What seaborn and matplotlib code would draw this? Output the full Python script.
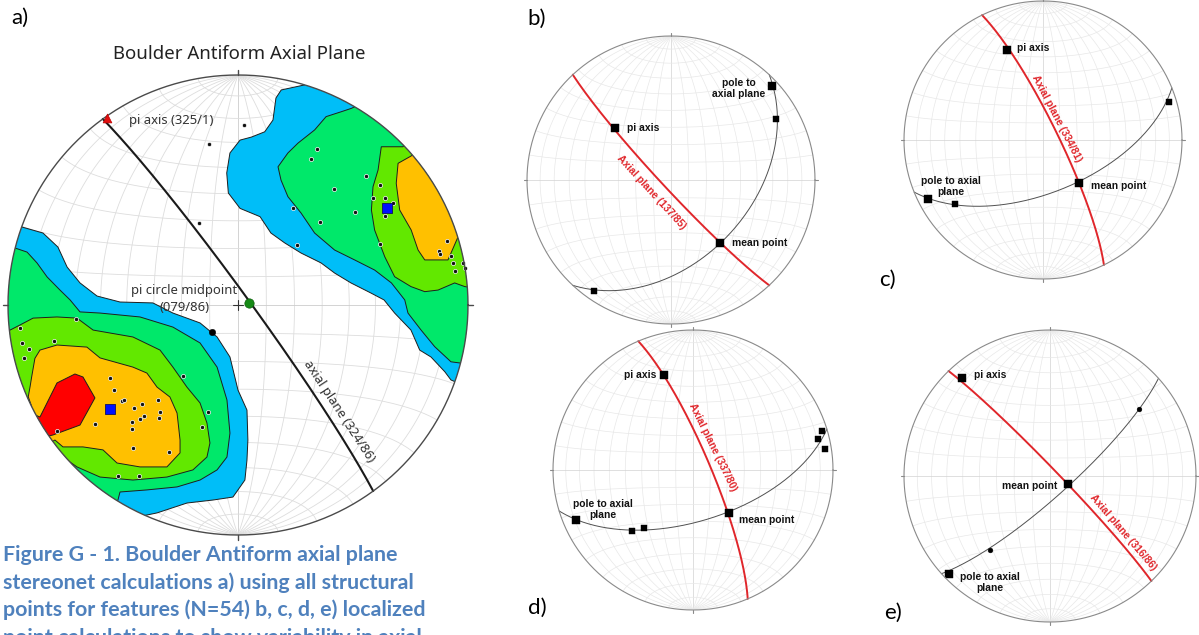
import numpy as np
import matplotlib
matplotlib.use("Agg")
import matplotlib.pyplot as plt
from matplotlib.patches import Circle
import seaborn as sns

sns.set_theme(style="white")
plt.rcParams["font.family"] = ["Noto Sans", "DejaVu Sans"]

W, H = 1199, 635

# ---------------------------------------------------------------------------
# a) all structural points: poles in projected net coordinates (east, north),
#    equal-area lower hemisphere, unit primitive circle
a_east = [0.342, 0.316, 0.558, 0.419, 0.619, 0.587, 0.638, 0.675, 0.639, 0.239,
          0.507, 0.355, 0.257, 0.617, 0.910, 0.875, 0.877, 0.925, 0.935, 0.942,
          0.978, 0.986, 0.027, -0.126, -0.168,
          -0.704, -0.948, -0.940, -0.907, -0.929, -0.799, -0.557, -0.538, -0.506,
          -0.494, -0.416, -0.349, -0.451, -0.339, -0.409, -0.345, -0.425, -0.460,
          -0.460, -0.622, -0.240, -0.129, -0.157, -0.455, -0.300, -0.523, -0.432,
          -0.788]
a_north = [0.678, 0.633, 0.561, 0.503, 0.522, 0.464, 0.467, 0.445, 0.388, 0.420,
           0.404, 0.361, 0.262, 0.265, 0.280, 0.235, 0.220, 0.214, 0.184, 0.149,
           0.181, 0.160, 0.781, 0.699, 0.358,
           -0.061, -0.099, -0.164, -0.193, -0.232, -0.155, -0.319, -0.371, -0.419,
           -0.412, -0.429, -0.413, -0.448, -0.464, -0.483, -0.490, -0.497, -0.509,
           -0.540, -0.519, -0.307, -0.467, -0.529, -0.622, -0.640, -0.742, -0.745,
           -0.548]
a_mean_east = [0.649, -0.557]
a_mean_north = [0.420, -0.451]
a_bulk_east = [-0.112]
a_bulk_north = [-0.116]
a_pi_axis = (325, 1)       # trend / plunge
a_pi_mid = (79, 86)        # trend / plunge
a_axial = (324, 86)        # strike / dip

# density contour outlines (projected coordinates), lowest level first
sw_c1 = [(-1.2, 0.45), (-1.035, 0.37), (-0.939, 0.339), (-0.848, 0.313), (-0.783, 0.252),
         (-0.743, 0.165), (-0.687, 0.096), (-0.613, 0.039), (-0.513, 0.013), (-0.370, 0.009),
         (-0.283, -0.035), (-0.165, -0.078), (-0.091, -0.139), (-0.035, -0.226), (0.0, -0.370),
         (0.039, -0.457), (0.043, -0.587), (0.039, -0.674), (0.030, -0.761), (0.009, -0.791),
         (-0.022, -0.835), (-0.109, -0.848), (-0.222, -0.861), (-0.352, -0.904), (-0.439, -0.922),
         (-0.5, -1.1), (-1.2, -1.2)]
sw_c2 = [(-1.2, 0.3), (-1.0, 0.248), (-0.970, 0.248), (-0.917, 0.230), (-0.874, 0.183),
         (-0.830, 0.122), (-0.774, 0.065), (-0.730, 0.022), (-0.687, -0.030), (-0.600, -0.035),
         (-0.426, -0.052), (-0.283, -0.096), (-0.165, -0.165), (-0.091, -0.270), (-0.048, -0.413),
         (-0.035, -0.557), (-0.048, -0.661), (-0.091, -0.717), (-0.165, -0.761), (-0.265, -0.791),
         (-0.396, -0.804), (-0.513, -0.813), (-0.522, -0.848), (-0.6, -1.0), (-1.2, -1.0)]
sw_c3 = [(-1.2, -0.1), (-0.991, -0.109), (-0.948, -0.087), (-0.891, -0.057), (-0.787, -0.052),
         (-0.700, -0.057), (-0.630, -0.109), (-0.457, -0.139), (-0.339, -0.196), (-0.283, -0.270),
         (-0.222, -0.357), (-0.165, -0.426), (-0.135, -0.513), (-0.122, -0.600), (-0.135, -0.661),
         (-0.196, -0.717), (-0.309, -0.748), (-0.457, -0.761), (-0.600, -0.748), (-0.700, -0.704),
         (-0.743, -0.674), (-0.85, -0.75), (-1.2, -0.7)]
sw_c4 = [(-1.1, -0.45), (-0.897, -0.442), (-0.912, -0.399), (-0.904, -0.355), (-0.897, -0.312),
         (-0.883, -0.232), (-0.861, -0.196), (-0.787, -0.174), (-0.657, -0.183), (-0.600, -0.230),
         (-0.457, -0.270), (-0.396, -0.296), (-0.352, -0.357), (-0.296, -0.400), (-0.265, -0.470),
         (-0.252, -0.587), (-0.252, -0.643), (-0.309, -0.704), (-0.426, -0.704), (-0.526, -0.687),
         (-0.587, -0.630), (-0.674, -0.617), (-0.761, -0.617), (-0.796, -0.587), (-0.9, -0.65),
         (-1.1, -0.6)]
sw_c5 = [(-0.861, -0.487), (-0.787, -0.339), (-0.709, -0.300), (-0.674, -0.313), (-0.622, -0.404),
         (-0.687, -0.522), (-0.804, -0.565), (-0.95, -0.6), (-0.95, -0.45)]
ne_c1 = [(0.25, 1.2), (0.290, 0.957), (0.188, 0.935), (0.165, 0.900), (0.152, 0.804),
         (0.116, 0.753), (0.058, 0.730), (0.009, 0.717), (-0.035, 0.661), (-0.049, 0.574),
         (-0.042, 0.487), (0.009, 0.420), (0.096, 0.384), (0.143, 0.313), (0.203, 0.270),
         (0.274, 0.226), (0.361, 0.183), (0.420, 0.139), (0.491, 0.096), (0.578, 0.052),
         (0.635, 0.022), (0.681, -0.035), (0.752, -0.109), (0.790, -0.196), (0.839, -0.226),
         (0.899, -0.290), (0.926, -0.326), (1.1, -0.4), (1.2, 1.2)]
ne_c2 = [(0.8, 1.0), (0.493, 0.855), (0.448, 0.840), (0.383, 0.819), (0.333, 0.761),
         (0.261, 0.704), (0.217, 0.661), (0.174, 0.601), (0.187, 0.543), (0.217, 0.471),
         (0.274, 0.400), (0.333, 0.313), (0.420, 0.239), (0.507, 0.196), (0.594, 0.152),
         (0.667, 0.096), (0.725, 0.022), (0.739, -0.035), (0.796, -0.109), (0.855, -0.181),
         (0.926, -0.247), (0.964, -0.252), (1.2, -0.3), (1.2, 1.0)]
ne_c3 = [(0.9, 0.9), (0.717, 0.688), (0.623, 0.688), (0.609, 0.587), (0.587, 0.514),
         (0.580, 0.413), (0.594, 0.326), (0.638, 0.210), (0.681, 0.123), (0.752, 0.080),
         (0.812, 0.058), (0.870, 0.065), (0.942, 0.096), (0.986, 0.080), (1.2, 0.05), (1.2, 0.9)]
ne_c4 = [(1.0, 0.9), (0.753, 0.648), (0.696, 0.616), (0.688, 0.529), (0.703, 0.413),
         (0.753, 0.326), (0.783, 0.239), (0.812, 0.196), (0.913, 0.196), (0.957, 0.297),
         (1.2, 0.3), (1.2, 0.9)]
level_colors = ["#00BEF8", "#00E86A", "#62E800", "#FFC000", "#FF0000"]

# b) - e) localized calculations: planes as strike/dip, lines as trend/plunge
b_axial = (137, 85)
b_pi = (313, 46)
b_mean = (142, 44)
b_pole = (47, 5)
b_pts_trend = [60, 215]
b_pts_plunge = [17, 7]

c_axial = (334, 81)
c_pi = (338, 31)
c_mean = (140, 57)
c_pole = (243, 8)
c_pts_trend = [234, 73]
c_pts_plunge = [23, 6]

d_axial = (337, 80)
d_pi = (343, 30)
d_mean = (140, 57)
d_pole = (247, 10)
d_pts_trend = [225, 220, 73, 76, 81]
d_pts_plunge = [38, 45, 4, 9, 5]

e_axial = (316, 86)
e_pi = (318, 11)
e_mean = (113, 79)
e_pole = (226, 4)
e_pts_trend = [53, 219]
e_pts_plunge = [25, 35]

caption = ["Figure G - 1. Boulder Antiform axial plane",
           "stereonet calculations a) using all structural",
           "points for features (N=54) b, c, d, e) localized",
           "point calculations to show variability in axial"]


# ---------------------------------------------------------------------------
def project(e, n, d):
    k = 1.0 / np.sqrt(1.0 + np.clip(d, 0, None))
    return e * k, n * k


def line_xy(trend, plunge):
    t, p = np.radians(np.asarray(trend, float)), np.radians(np.asarray(plunge, float))
    return project(np.cos(p) * np.sin(t), np.cos(p) * np.cos(t), np.sin(p))


def plane_xy(strike, dip, n=241):
    s, d = np.radians(strike), np.radians(dip)
    th = np.linspace(0, np.pi, n)
    e = np.cos(th) * np.sin(s) + np.sin(th) * np.cos(d) * np.cos(s)
    nn = np.cos(th) * np.cos(s) - np.sin(th) * np.cos(d) * np.sin(s)
    dd = np.sin(th) * np.sin(d)
    return project(e, nn, dd)


fig = plt.figure(figsize=(W / 100, H / 100), dpi=100)


def net_axes(cx, cy, r):
    ax = fig.add_axes([(cx - r) / W, 1 - (cy + r) / H, 2 * r / W, 2 * r / H])
    ax.set_xlim(-1, 1)
    ax.set_ylim(-1, 1)
    ax.axis("off")
    return ax


def draw_net(ax, grid_color, grid_lw, axis_color, rim_color, rim_lw, tick=0.03):
    phi = np.radians(np.linspace(-90, 90, 181))
    for lam in range(-80, 90, 10):
        l = np.radians(lam)
        x, y = project(np.cos(phi) * np.sin(l), np.sin(phi), np.cos(phi) * np.cos(l))
        ax.plot(x, y, color=axis_color if lam == 0 else grid_color, lw=grid_lw, zorder=1)
    lamv = np.radians(np.linspace(-90, 90, 181))
    for ph in range(-80, 90, 10):
        p = np.radians(ph)
        x, y = project(np.cos(p) * np.sin(lamv), np.full_like(lamv, np.sin(p)),
                       np.cos(p) * np.cos(lamv))
        ax.plot(x, y, color=axis_color if ph == 0 else grid_color, lw=grid_lw, zorder=1)
    t = np.linspace(0, 2 * np.pi, 721)
    ax.plot(np.cos(t), np.sin(t), color=rim_color, lw=rim_lw, zorder=6, clip_on=False)
    for ang in (0, 90, 180, 270):
        a = np.radians(ang)
        ax.plot([np.cos(a), (1 + tick) * np.cos(a)], [np.sin(a), (1 + tick) * np.sin(a)],
                color=rim_color, lw=rim_lw, zorder=6, clip_on=False)


def great_circle(ax, strike, dip, color, lw):
    x, y = plane_xy(strike, dip)
    sns.lineplot(x=x, y=y, sort=False, estimator=None, color=color, linewidth=lw,
                 ax=ax, zorder=4, legend=False)


def squares(ax, trend, plunge, size, marker="s"):
    x, y = line_xy(trend, plunge)
    sns.scatterplot(x=np.atleast_1d(x), y=np.atleast_1d(y), marker=marker, s=size,
                    color="black", edgecolor="black", linewidth=0.3, ax=ax, zorder=5,
                    legend=False)
    return float(np.atleast_1d(x)[0]), float(np.atleast_1d(y)[0])


lab_kw = dict(textcoords="offset pixels", fontsize=7.4, fontweight="bold",
              family=["Liberation Sans", "DejaVu Sans"], color="#111111", zorder=7)

# ------------------------------- panel a -----------------------------------
axa = net_axes(238, 305, 230)
draw_net(axa, "#DDDDDD", 0.6, "#CCCCCC", "#4A4A4A", 1.0, tick=0.02)
rim_a = Circle((0, 0), 1, transform=axa.transData)

for outlines, col in zip([(sw_c1, ne_c1), (sw_c2, ne_c2), (sw_c3, ne_c3), (sw_c4, ne_c4),
                          (sw_c5,)], level_colors):
    for poly in outlines:
        xs, ys = zip(*poly)
        patch = axa.fill(xs, ys, facecolor=col, edgecolor="#1E1E1E", linewidth=0.7,
                         zorder=2)[0]
        patch.set_clip_path(rim_a)

axa.plot([-0.02, 0.02], [0, 0], color="#333333", lw=0.8, zorder=3)
axa.plot([0, 0], [-0.02, 0.02], color="#333333", lw=0.8, zorder=3)

great_circle(axa, a_axial[0], a_axial[1], "#1A1A1A", 1.5)

sns.scatterplot(x=a_east, y=a_north, s=9, color="#111111", edgecolor="white",
                linewidth=0.5, ax=axa, zorder=5, legend=False)
sns.scatterplot(x=a_bulk_east, y=a_bulk_north, s=22, color="black", edgecolor="black",
                linewidth=0.3, ax=axa, zorder=5, legend=False)
sns.scatterplot(x=a_mean_east, y=a_mean_north, marker="s", s=42, color="#0010FF",
                edgecolor="#10105A", linewidth=0.6, ax=axa, zorder=5, legend=False)

px_, py_ = line_xy(*a_pi_axis)
sns.scatterplot(x=[px_], y=[py_], marker="^", s=40, color="#E01010", edgecolor="#C00000",
                linewidth=0.5, ax=axa, zorder=6, legend=False)
mx_, my_ = line_xy(*a_pi_mid)
sns.scatterplot(x=[mx_], y=[my_], marker="o", s=45, color="#158A15", edgecolor="#0B5E0B",
                linewidth=0.5, ax=axa, zorder=6, legend=False)

a_font = dict(fontsize=9.4, color="#333333", family=["Noto Sans", "DejaVu Sans"], zorder=7)
axa.annotate(f"pi axis ({a_pi_axis[0]:03d}/{a_pi_axis[1]})", xy=(px_, py_), xytext=(22, -2),
             textcoords="offset pixels", ha="left", va="center", **a_font)
axa.annotate(f"pi circle midpoint\n({a_pi_mid[0]:03d}/{a_pi_mid[1]})", xy=(mx_, my_),
             xytext=(-65, 4), textcoords="offset pixels", ha="center", va="center",
             multialignment="center", linespacing=1.35, **a_font)
axa.text(0.442, -0.460, f"axial plane ({a_axial[0]}/{a_axial[1]})", rotation=-56.7,
         rotation_mode="anchor", ha="center", va="center", **a_font)

fig.text(238.8 / W, 1 - 54 / H, "Boulder Antiform Axial Plane", ha="center", va="center",
         fontsize=13.4, color="#222222", family=["Noto Sans", "DejaVu Sans"])


# ---------------------------- panels b - e ---------------------------------
def small_net(cx, cy, r, axial, pi, mean, pole, pts_t, pts_p, pt_marker, pt_size,
              red_xy, red_rot, offs):
    ax = net_axes(cx, cy, r)
    draw_net(ax, "#E8E8E8", 0.5, "#D2D2D2", "#8A8A8A", 0.8, tick=0.02)
    pi_strike, pi_dip = (pi[0] + 90) % 360, 90 - pi[1]
    great_circle(ax, pi_strike, pi_dip, "#505050", 0.7)
    great_circle(ax, axial[0], axial[1], "#E0262B", 1.4)
    sns.scatterplot(x=line_xy(pts_t, pts_p)[0], y=line_xy(pts_t, pts_p)[1],
                    marker=pt_marker, s=pt_size, color="black", edgecolor="black",
                    linewidth=0.3, ax=ax, zorder=5, legend=False)
    p_pi = squares(ax, *pi, 36)
    p_mean = squares(ax, *mean, 36)
    p_pole = squares(ax, *pole, 36)
    (o_pi, ha_pi), (o_mean, ha_mean), (o_pole, ha_pole) = offs
    ax.annotate("pi axis", xy=p_pi, xytext=o_pi, ha=ha_pi, va="center", **lab_kw)
    ax.annotate("mean point", xy=p_mean, xytext=o_mean, ha=ha_mean, va="center", **lab_kw)
    ax.annotate(pole_text[ax_count[0]], xy=p_pole, xytext=o_pole, ha=ha_pole, va="center",
                multialignment="center", linespacing=1.12, **lab_kw)
    ax.text(red_xy[0], red_xy[1], f"Axial plane ({axial[0]}/{axial[1]})", rotation=red_rot,
            rotation_mode="anchor", ha="center", va="center", fontsize=7.5,
            fontweight="bold", family=["Liberation Sans", "DejaVu Sans"], color="#E0262B",
            zorder=7)
    ax_count[0] += 1
    return ax


pole_text = ["pole to\naxial plane", "pole to axial\nplane", "pole to axial\nplane",
             "pole to axial\nplane"]
ax_count = [0]

small_net(671, 180, 144, b_axial, b_pi, b_mean, b_pole, b_pts_trend, b_pts_plunge, "s", 14,
          (-0.135, -0.083), -47.5,
          [((12, 0), "left"), ((12, 0), "left"), ((-33, -2), "center")])
small_net(1043, 140, 139, c_axial, c_pi, c_mean, c_pole, c_pts_trend, c_pts_plunge, "s", 14,
          (0.099, 0.156), -62.5,
          [((10, 2), "left"), ((12, -3), "left"), ((23, 12), "center")])
small_net(693, 470, 140, d_axial, d_pi, d_mean, d_pole, d_pts_trend, d_pts_plunge, "s", 14,
          (0.139, 0.161), -63.9,
          [((-8, 0), "right"), ((10, -7), "left"), ((27, 10), "center")])
small_net(1050, 476, 146, e_axial, e_pi, e_mean, e_pole, e_pts_trend, e_pts_plunge, "o", 12,
          (0.499, -0.387), -49.4,
          [((12, 3), "left"), ((-11, -2), "right"), ((41, -9), "center")])

# panel letters
for letter, (x, y) in zip(["a)", "b)", "c)", "d)", "e)"],
                          [(20, 18), (537, 19), (887, 280), (537, 608), (893, 613)]):
    fig.text(x / W, 1 - y / H, letter, ha="center", va="center", fontsize=16,
             family=["Lato", "DejaVu Sans"], color="black")

# caption, sized so the first line spans its column
cap_texts = [fig.text(3 / W, 1 - y / H, s, ha="left", va="center", fontsize=16,
                      fontweight="bold", family=["Lato", "DejaVu Sans"], color="#4F81BD")
             for s, y in zip(caption, [555, 582.7, 610, 637.5])]
fig.canvas.draw()
w0 = cap_texts[0].get_window_extent().width
for t in cap_texts:
    t.set_fontsize(16 * 395 / w0)

fig.savefig("out.png", dpi=100)
